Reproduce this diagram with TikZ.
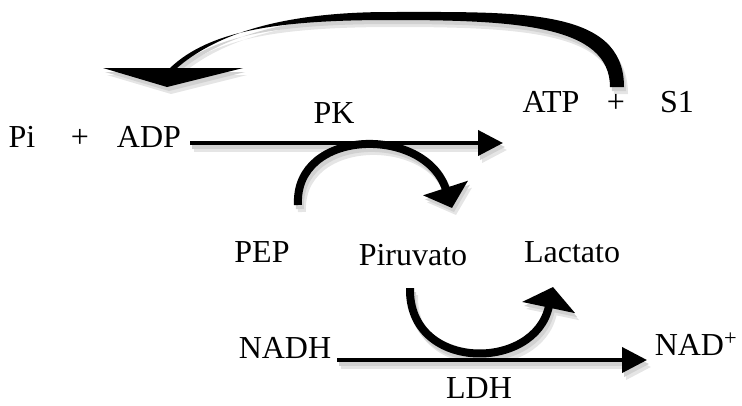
\documentclass[tikz,border=0pt]{standalone}
\usepackage{fontspec}
\setmainfont{Liberation Serif}
\usetikzlibrary{arrows.meta}

\begin{document}
\begin{tikzpicture}[x=1pt, y=-1pt, font=\fontsize{32}{36}\selectfont,
  lbl/.style={anchor=base, inner sep=0pt},
  rxn/.style={line width=4pt, -{Triangle[length=25pt, width=25pt]}},
  hook/.style={line width=8pt}]
  \useasboundingbox (0,0) rectangle (742,405);

  % ends of the reaction arrows and the loops
  \coordinate (pkin) at (190,143);
  \coordinate (pkout) at (503,143);
  \coordinate (ldhin) at (337,360);
  \coordinate (ldhout) at (647,360);
  \coordinate (pepup) at (298,205);
  \coordinate (pirdown) at (452,208);
  \coordinate (pirlow) at (410,288);
  \coordinate (lacup) at (553,287);

  % shadow first, then the black strokes
  \foreach \tone/\dx/\dy in {black!10/4/7, black!18/2/4, black/0/0} {
    \begin{scope}[transform canvas={shift={(\dx pt,-\dy pt)}}, draw=\tone, fill=\tone]
      \draw[rxn] (pkin) -- (pkout);
      \draw[rxn] (ldhin) -- (ldhout);
      \draw[hook, -{Triangle[length=21pt, width=46pt]}]
        (pepup) .. controls (294,128) and (425,125) .. (pirdown);
      \draw[hook, -{Triangle[length=21pt, width=53pt]}]
        (pirlow) .. controls (408,372) and (535,372) .. (lacup);
      % tapering loop from ATP back over the top
      \fill (624,87) .. controls (624,8) and (520,12) .. (390,12)
        .. controls (280,12) and (215,35) .. (177,68)
        -- (170,68) .. controls (210,30) and (280,20) .. (390,20)
        .. controls (515,20) and (610,25) .. (610,87) -- cycle;
      \fill (103,68) -- (243,68) -- (167,87) -- cycle;
    \end{scope}
  }

  \node[lbl] (pi) at (22,147) {Pi};
  \node[lbl] (plusa) at (80,147) {+};
  \node[lbl] (adp) at (149,147) {ADP};
  \node[lbl] (pk) at (334,123) {PK};
  \node[lbl] (atp) at (551,112) {ATP};
  \node[lbl] (plusb) at (616,112) {+};
  \node[lbl] (sone) at (677,112) {S1};
  \node[lbl] (pep) at (262,262) {PEP};
  \node[lbl] (pir) at (413,265) {Piruvato};
  \node[lbl] (lac) at (572,262) {Lactato};
  \node[lbl] (nadh) at (285,358) {NADH};
  \node[lbl] (nad) at (696,355) {NAD\textsuperscript{+}};
  \node[lbl] (ldh) at (479,398) {LDH};
\end{tikzpicture}
\end{document}
